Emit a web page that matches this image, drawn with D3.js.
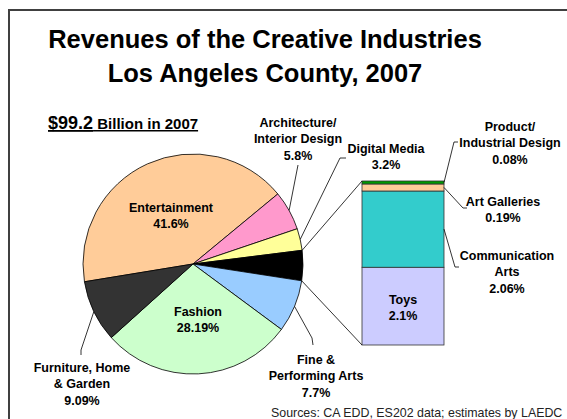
<!DOCTYPE html>
<html>
<head>
<meta charset="utf-8">
<script src="https://cdn.jsdelivr.net/npm/d3@7"></script>
<style>
  body { margin: 0; background: #fff; }
  svg text { font-family: "Liberation Sans", Arial, sans-serif; }
</style>
</head>
<body>
<svg id="chart"></svg>
<script>
/*	Data ----------------------------------------------*/
const pieNames   = ["Entertainment", "Architecture/Interior Design", "Digital Media", "Other",
                    "Fine & Performing Arts", "Fashion", "Furniture, Home & Garden"];
const pieValues  = [41.6, 5.8, 3.2, 4.43, 7.7, 28.19, 9.09];
const pieColors  = ["#FFCC99", "#FF99CC", "#FFFF99", "#000000", "#99CCFF", "#CCFFCC", "#333333"];
const pieLabels  = [["Entertainment", "41.6%"], ["Architecture/", "Interior Design", "5.8%"],
                    ["Digital Media", "3.2%"], [], ["Fine &", "Performing Arts", "7.7%"],
                    ["Fashion", "28.19%"], ["Furniture, Home", "& Garden", "9.09%"]];

const barNames   = ["Toys", "Communication Arts", "Art Galleries", "Product/Industrial Design"];
const barValues  = [2.1, 2.06, 0.19, 0.08];
const barColors  = ["#CCCCFF", "#33CCCC", "#FFCC99", "#009900"];
const barLabels  = [["Toys", "2.1%"], ["Communication", "Arts", "2.06%"],
                    ["Art Galleries", "0.19%"], ["Product/", "Industrial Design", "0.08%"]];

const titleLines = ["Revenues of the Creative Industries", "Los Angeles County, 2007"];

/*	Layout -------------------------------------------*/
const width = 567, height = 419;
const cx = 193, cy = 264, radius = 110;
const startDeg = -99.3;
const bar = {x0: 362, x1: 444, top: 181, bottom: 345};
const lineH = 16.5;

/*	label placement: centre of first line, leader end points (pie ones start at slice mid arc) */
const pieLabelPos = [
  {x: 171, y: 207, leader: null},
  {x: 298, y: 122, leader: [[298, 165]]},
  {x: 386, y: 148, leader: [[340, 158], [346, 158]]},
  null,
  {x: 316, y: 359, leader: [[312, 338], [313, 345]]},
  {x: 198, y: 311, leader: null},
  {x: 82,  y: 367, leader: [[81, 350], [81, 355]]}
];
const barLabelPos = [
  {x: 403, y: 299, leader: null},
  {x: 507, y: 255, leader: [[455, 267], [459, 267]]},
  {x: 503, y: 201, leader: [[463, 208], [467, 208]]},
  {x: 510, y: 126, leader: [[454, 142], [458, 142]]}
];

const svg = d3.select("#chart").attr("width", width).attr("height", height);

/*	Frame --------------------------------------------*/
svg.append("rect")
  .attr("x", 9).attr("y", 10).attr("width", 700).attr("height", 600)
  .attr("fill", "none").attr("stroke", "#404040").attr("stroke-width", 2);

/*	Title --------------------------------------------*/
svg.selectAll(".title").data(titleLines).enter().append("text")
  .attr("class", "title")
  .attr("x", 265).attr("y", (d, i) => 48 + i * 34)
  .attr("text-anchor", "middle")
  .attr("font-size", 25.5).attr("font-weight", "bold")
  .text(d => d);

const sub = svg.append("text").attr("x", 48).attr("y", 129)
  .attr("font-weight", "bold").attr("text-decoration", "underline");
sub.append("tspan").attr("font-size", 18).text("$99.2");
sub.append("tspan").attr("font-size", 15).text(" Billion in 2007");

/*	Pie ----------------------------------------------*/
const pie = d3.pie().sort(null).value(d => d)
  .startAngle(startDeg * Math.PI / 180)
  .endAngle((startDeg + 360) * Math.PI / 180);
const arcs = pie(pieValues);
const arc = d3.arc().innerRadius(0).outerRadius(radius);

const gPie = svg.append("g").attr("transform", `translate(${cx},${cy})`);
gPie.selectAll("path").data(arcs).enter().append("path")
  .attr("d", arc)
  .attr("fill", (d, i) => pieColors[i])
  .attr("stroke", "#000").attr("stroke-width", 0.8);

const onArc = a => [cx + radius * Math.sin(a), cy - radius * Math.cos(a)];

/*	Bar of the "Other" slice -------------------------*/
const y = d3.scaleLinear().domain([0, d3.sum(barValues)]).range([bar.bottom, bar.top]);
const stack = [];
barValues.reduce((acc, v, i) => { stack.push({i: i, y0: acc, y1: acc + v}); return acc + v; }, 0);

svg.append("g").selectAll("rect").data(stack).enter().append("rect")
  .attr("x", bar.x0).attr("width", bar.x1 - bar.x0)
  .attr("y", d => y(d.y1)).attr("height", d => y(d.y0) - y(d.y1))
  .attr("fill", d => barColors[d.i])
  .attr("stroke", "#333").attr("stroke-width", 0.8);

/*	Connector lines from the black slice to the bar --*/
const other = arcs[3];
const connectors = [[onArc(other.startAngle), [bar.x0, y(d3.sum(barValues))]],
                    [onArc(other.endAngle), [bar.x0, y(0)]]];
svg.append("g").selectAll("line").data(connectors).enter().append("line")
  .attr("x1", d => d[0][0]).attr("y1", d => d[0][1])
  .attr("x2", d => d[1][0]).attr("y2", d => d[1][1])
  .attr("stroke", "#000").attr("stroke-width", 0.8);

/*	Leaders ------------------------------------------*/
const leaders = [];
arcs.forEach((d, i) => {
  const p = pieLabelPos[i];
  if (p && p.leader) leaders.push([onArc((d.startAngle + d.endAngle) / 2)].concat(p.leader));
});
stack.forEach(d => {
  const p = barLabelPos[d.i];
  if (p.leader) leaders.push([[bar.x1, y((d.y0 + d.y1) / 2)]].concat(p.leader));
});
svg.append("g").selectAll("path").data(leaders).enter().append("path")
  .attr("d", d3.line())
  .attr("fill", "none").attr("stroke", "#000").attr("stroke-width", 0.8);

/*	Labels -------------------------------------------*/
function addLabel(lines, pos) {
  const t = svg.append("text")
    .attr("text-anchor", "middle")
    .attr("font-size", 12.5).attr("font-weight", "bold");
  lines.forEach((s, k) => {
    t.append("tspan").attr("x", pos.x).attr("y", pos.y + 4.5 + k * lineH).text(s);
  });
}
pieLabels.forEach((l, i) => { if (pieLabelPos[i]) addLabel(l, pieLabelPos[i]); });
barLabels.forEach((l, i) => addLabel(l, barLabelPos[i]));

/*	Source -------------------------------------------*/
svg.append("text").attr("x", 271).attr("y", 417)
  .attr("font-size", 12.4).attr("fill", "#222")
  .text("Sources: CA EDD, ES202 data; estimates by LAEDC");
</script>
</body>
</html>
